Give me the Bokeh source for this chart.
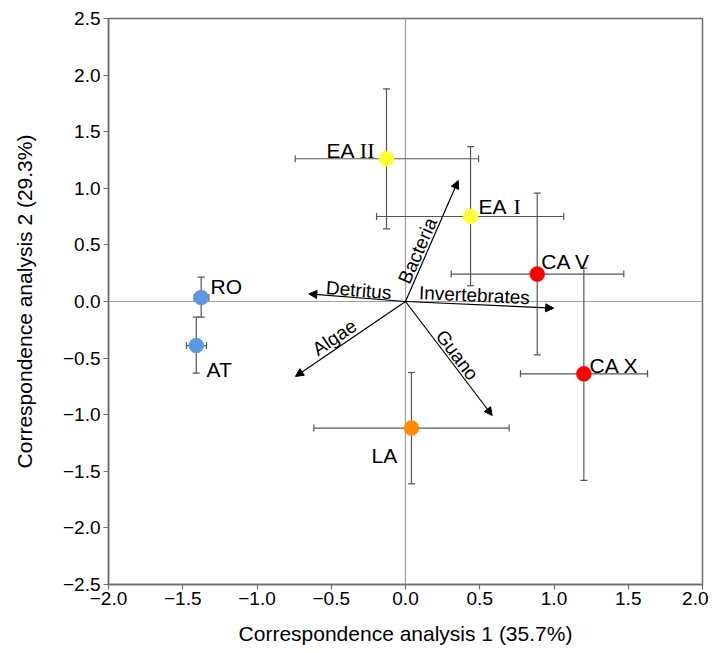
from bokeh.plotting import figure
from bokeh.models import (Range1d, FixedTicker, Span, Whisker, TeeHead, Arrow, NormalHead,
                          ColumnDataSource)
from bokeh.core.properties import value
from bokeh.embed import file_html
from bokeh.resources import INLINE
import math

# ---------------- data ----------------
samples = ["RO", "AT", "EA II", "EA I", "CA V", "CA X", "LA"]
ca1 = [-1.376, -1.409, -0.128, 0.438, 0.887, 1.201, 0.040]
ca2 = [0.035, -0.389, 1.261, 0.751, 0.242, -0.639, -1.118]
ca1_low = [-1.423, -1.475, -0.743, -0.195, 0.308, 0.774, -0.617]
ca1_high = [-1.324, -1.340, 0.492, 1.066, 1.470, 1.630, 0.698]
ca2_low = [-0.138, -0.633, 0.642, 0.139, -0.471, -1.581, -1.610]
ca2_high = [0.215, -0.138, 1.879, 1.369, 0.958, 0.295, -0.627]
colors = ["#5B97E6", "#5B97E6", "#FFFF33", "#FFFF33", "#FF0000", "#FF0000", "#FF8C00"]

variables = ["Bacteria", "Detritus", "Invertebrates", "Algae", "Guano"]
var_x = [0.355, -0.651, 0.998, -0.741, 0.584]
var_y = [1.069, 0.068, -0.059, -0.662, -1.007]

x_ticks = [-2.0, -1.5, -1.0, -0.5, 0.0, 0.5, 1.0, 1.5, 2.0]
y_ticks = [-2.5, -2.0, -1.5, -1.0, -0.5, 0.0, 0.5, 1.0, 1.5, 2.0, 2.5]
x_title = "Correspondence analysis 1 (35.7%)"
y_title = "Correspondence analysis 2 (29.3%)"

# ---------------- layout ----------------
FW, FH = 594, 566
XMIN, XMAX, YMIN, YMAX = -2.0, 2.0, -2.5, 2.5
SX = FW / (XMAX - XMIN)
SY = FH / (YMAX - YMIN)
SANS = "Liberation Sans"
SERIF = "Liberation Serif"

def fmt(v):
    s = f"{abs(v):.1f}"
    return ("\u2212" + s) if v < 0 else s

p = figure(frame_width=FW, frame_height=FH, output_backend="svg", toolbar_location=None,
           x_range=Range1d(XMIN, XMAX), y_range=Range1d(YMIN, YMAX),
           min_border_left=108, min_border_right=6, min_border_top=18, min_border_bottom=62)
p.background_fill_color = "white"
p.border_fill_color = "white"
p.outline_line_color = "#6E6E6E"
p.outline_line_width = 1.5
p.xgrid.visible = False
p.ygrid.visible = False

for ax, ticks in ((p.xaxis, x_ticks), (p.yaxis, y_ticks)):
    ax.ticker = FixedTicker(ticks=ticks)
    ax.major_label_overrides = {t: fmt(t) for t in ticks}
    ax.minor_tick_line_color = None
    ax.major_tick_in = 0
    ax.major_tick_out = 5
    ax.major_tick_line_color = "#6E6E6E"
    ax.major_tick_line_width = 1.2
    ax.axis_line_color = "#6E6E6E"
    ax.axis_line_width = 1.5
    ax.major_label_text_font = SANS
    ax.major_label_text_font_size = "19px"
    ax.major_label_text_color = "black"
    ax.axis_label_text_font = SANS
    ax.axis_label_text_font_size = "21px"
    ax.axis_label_text_font_style = "normal"
    ax.axis_label_text_color = "black"

p.xaxis.axis_label = x_title
p.yaxis.axis_label = y_title
p.xaxis.major_label_standoff = 2
p.yaxis.major_label_standoff = 3
p.xaxis.axis_label_standoff = 14
p.yaxis.axis_label_standoff = 24

# zero lines
p.add_layout(Span(location=0, dimension="width", line_color="#A0A0A0", line_width=1.2, level="underlay"))
p.add_layout(Span(location=0, dimension="height", line_color="#A0A0A0", line_width=1.2, level="underlay"))

# error bars
src = ColumnDataSource(dict(x=ca1, y=ca2, xl=ca1_low, xh=ca1_high, yl=ca2_low, yh=ca2_high, c=colors))
EB = "#555555"
def tee():
    return TeeHead(size=7, line_color=EB, line_width=1.2)
p.add_layout(Whisker(source=src, base="y", lower="xl", upper="xh", dimension="width",
                     line_color=EB, line_width=1.2, upper_head=tee(), lower_head=tee(), level="underlay"))
p.add_layout(Whisker(source=src, base="x", lower="yl", upper="yh", dimension="height",
                     line_color=EB, line_width=1.2, upper_head=tee(), lower_head=tee(), level="underlay"))

# points
p.scatter("x", "y", source=src, size=15, fill_color="c", line_color="c", line_width=0.5)

# arrows
asrc = ColumnDataSource(dict(x0=[0.0] * len(var_x), y0=[0.0] * len(var_y), x1=var_x, y1=var_y))
p.add_layout(Arrow(source=asrc, x_start="x0", y_start="y0", x_end="x1", y_end="y1",
                   line_color="black", line_width=1.2,
                   end=NormalHead(size=8, fill_color="black", line_color="black", line_width=1)))

# arrow labels: offset from the arrow midpoint in screen px (dx right, dy down)
arrow_lab_off = {"Bacteria": (-14.3, 9.7), "Detritus": (1.6, -7.5), "Invertebrates": (-5.2, -9.7),
                 "Algae": (-16.0, -1.6), "Guano": (8.3, -3.4)}
alx, aly, aang = [], [], []
for name, vx, vy in zip(variables, var_x, var_y):
    dx, dy = arrow_lab_off[name]
    alx.append(vx / 2 + dx / SX)
    aly.append(vy / 2 - dy / SY)
    ang = math.atan2(vy * SY, vx * SX)
    if vx < 0:
        ang += math.pi
    aang.append(ang)
p.text(x=alx, y=aly, text=variables, angle=aang, text_font=value(SANS), text_font_size=value("19px"),
       text_align="center", text_baseline="middle", text_color="black")

# sample labels: (sans dx, roman dx, dy, align) in screen px
lab_sans = ["RO", "AT", "EA", "EA", "CA V", "CA X", "LA"]
lab_roman = ["", "", "II", "I", "", "", ""]
lab_layout = [(9.3, None, -10.7, "left"), (10.3, None, 24.3, "left"), (-32, -12, -8.3, "right"),
              (8, 43, -10.0, "left"), (4, None, -12.6, "left"), (5.7, None, -8.0, "left"),
              (-14.3, None, 27.7, "right")]
sx_, sy_, sal = [], [], []
rx, ry, rtxt, ral = [], [], [], []
for i, (dx, rdx, dy, al) in enumerate(lab_layout):
    sx_.append(ca1[i] + dx / SX)
    sy_.append(ca2[i] - dy / SY)
    sal.append(al)
    if lab_roman[i]:
        rx.append(ca1[i] + rdx / SX)
        ry.append(ca2[i] - dy / SY)
        rtxt.append(lab_roman[i])
        ral.append(al)
p.text(x=sx_, y=sy_, text=lab_sans, text_align=sal, text_baseline="alphabetic",
       text_font=value(SANS), text_font_size=value("21px"), text_color="black")
p.text(x=rx, y=ry, text=rtxt, text_align=ral, text_baseline="alphabetic",
       text_font=value(SERIF), text_font_size=value("22px"), text_color="black")

open("out.html", "w").write(file_html(p, INLINE))
